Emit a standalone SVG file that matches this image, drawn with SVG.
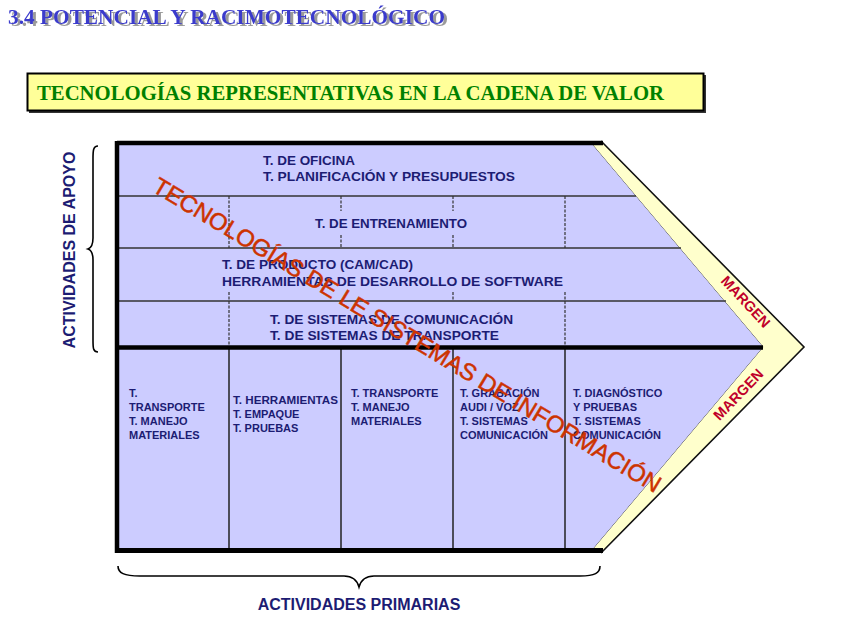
<svg xmlns="http://www.w3.org/2000/svg" width="848" height="636" viewBox="0 0 848 636">
<defs>
<filter id="sh" x="-5%" y="-30%" width="115%" height="170%">
<feOffset in="SourceAlpha" dx="3" dy="2" result="o"/>
<feFlood flood-color="#9a9a9a"/>
<feComposite in2="o" operator="in" result="s"/>
<feMerge><feMergeNode in="s"/><feMergeNode in="SourceGraphic"/></feMerge>
</filter>
</defs>
<style>
.t{font-family:"Liberation Sans",Arial,sans-serif;font-weight:bold;fill:#1c1c73}
.s{font-size:13px}
.p{font-size:11px}
.thin{stroke:#333;stroke-width:1.3;fill:none}
.dash{stroke:#333;stroke-width:1.2;stroke-dasharray:3,1.5;fill:none}
.col{stroke:#222;stroke-width:1.5;fill:none}
.thick{stroke:#000;stroke-width:4.5;fill:none}
.brace{stroke:#000;stroke-width:1.6;fill:none}
.mg{font-family:"Liberation Sans",Arial,sans-serif;font-weight:bold;font-size:14.5px;fill:#c0002a}
</style>
<rect width="848" height="636" fill="#fff"/>
<g id="title">
<text x="8" y="24" font-family="Liberation Serif,'Times New Roman',serif" font-weight="bold" font-size="22" fill="#3b3bcc" textLength="437" lengthAdjust="spacingAndGlyphs" filter="url(#sh)">3.4 POTENCIAL Y RACIMOTECNOLÓGICO</text>
</g>
<g id="subtitle">
<rect x="29" y="75" width="677" height="38" fill="#333"/>
<rect x="27.5" y="73.5" width="676" height="37" fill="#ffff99" stroke="#000" stroke-width="2"/>
<text x="37" y="100" font-family="Liberation Serif,'Times New Roman',serif" font-weight="bold" font-size="21" fill="#008000" textLength="627" lengthAdjust="spacingAndGlyphs">TECNOLOGÍAS REPRESENTATIVAS EN LA CADENA DE VALOR</text>
</g>
<g id="margin-band">
<polygon points="591,143 603,143 804,347 603,551 591,551 763,347" fill="#ffffcc" stroke="none"/>
<polyline points="601,141 804,347 601,553" fill="none" stroke="#111" stroke-width="1.6"/>
<polyline points="591,143 763,347 591,551" fill="none" stroke="#444" stroke-width="1"/>
</g>
<g id="chain-body">
<polygon points="117,143 591,143 763,347 591,551 117,551" fill="#ccccff"/>
</g>
<g id="grid">
<line class="thin" x1="117" y1="196" x2="636" y2="196"/>
<line class="thin" x1="117" y1="248" x2="681" y2="248"/>
<line class="thin" x1="117" y1="301" x2="726" y2="301"/>
<line class="dash" x1="229" y1="196" x2="229" y2="248"/>
<line class="dash" x1="341" y1="196" x2="341" y2="211"/>
<line class="dash" x1="341" y1="235" x2="341" y2="248"/>
<line class="dash" x1="453" y1="196" x2="453" y2="211"/>
<line class="dash" x1="453" y1="235" x2="453" y2="248"/>
<line class="dash" x1="565" y1="196" x2="565" y2="248"/>
<line class="dash" x1="229" y1="292" x2="229" y2="347"/>
<line class="dash" x1="453" y1="292" x2="453" y2="301"/>
<line class="dash" x1="565" y1="292" x2="565" y2="347"/>
<line class="col" x1="229" y1="347" x2="229" y2="550"/>
<line class="col" x1="341" y1="347" x2="341" y2="550"/>
<line class="col" x1="453" y1="347" x2="453" y2="550"/>
<line class="col" x1="565" y1="347" x2="565" y2="550"/>
<line class="thick" x1="117" y1="347.5" x2="763" y2="347.5"/>
<line class="thick" x1="117" y1="143" x2="603" y2="143"/>
<line class="thick" x1="117" y1="141" x2="117" y2="553"/>
<line stroke="#000" stroke-width="5" x1="115" y1="550.5" x2="603" y2="550.5"/>
</g>
<g id="support-1">
<text class="t s" x="263" y="165" textLength="92" lengthAdjust="spacingAndGlyphs">T. DE OFICINA</text>
<text class="t s" x="263" y="181" textLength="252" lengthAdjust="spacingAndGlyphs">T. PLANIFICACIÓN Y PRESUPUESTOS</text>
</g>
<g id="support-2">
<text class="t s" x="315" y="228" textLength="152" lengthAdjust="spacingAndGlyphs">T. DE ENTRENAMIENTO</text>
</g>
<g id="support-3">
<text class="t s" x="222" y="269" textLength="191" lengthAdjust="spacingAndGlyphs">T. DE PRODUCTO (CAM/CAD)</text>
<text class="t s" x="222" y="286" textLength="341" lengthAdjust="spacingAndGlyphs">HERRAMIENTAS DE DESARROLLO DE SOFTWARE</text>
</g>
<g id="support-4">
<text class="t s" x="270" y="324" textLength="243" lengthAdjust="spacingAndGlyphs">T. DE SISTEMAS DE COMUNICACIÓN</text>
<text class="t s" x="270" y="340" textLength="229" lengthAdjust="spacingAndGlyphs">T. DE SISTEMAS DE TRANSPORTE</text>
</g>
<g id="primary-1">
<text class="t p" x="129" y="397">T.</text>
<text class="t p" x="129" y="411">TRANSPORTE</text>
<text class="t p" x="129" y="425">T. MANEJO</text>
<text class="t p" x="129" y="439">MATERIALES</text>
</g>
<g id="primary-2">
<text class="t p" x="233" y="404" textLength="105" lengthAdjust="spacingAndGlyphs">T. HERRAMIENTAS</text>
<text class="t p" x="233" y="418">T. EMPAQUE</text>
<text class="t p" x="233" y="432">T. PRUEBAS</text>
</g>
<g id="primary-3">
<text class="t p" x="351" y="397">T. TRANSPORTE</text>
<text class="t p" x="351" y="411">T. MANEJO</text>
<text class="t p" x="351" y="425">MATERIALES</text>
</g>
<g id="primary-4">
<text class="t p" x="460" y="397">T. GRABACIÓN</text>
<text class="t p" x="460" y="411">AUDI / VOZ</text>
<text class="t p" x="460" y="425">T. SISTEMAS</text>
<text class="t p" x="460" y="439">COMUNICACIÓN</text>
</g>
<g id="primary-5">
<text class="t p" x="573" y="397">T. DIAGNÓSTICO</text>
<text class="t p" x="573" y="411">Y PRUEBAS</text>
<text class="t p" x="573" y="425">T. SISTEMAS</text>
<text class="t p" x="573" y="439">COMUNICACIÓN</text>
</g>
<g id="margin-labels">
<text class="mg" text-anchor="middle" transform="translate(742,305) rotate(47)">MARGEN</text>
<text class="mg" text-anchor="middle" transform="translate(742,398) rotate(-46)">MARGEN</text>
</g>
<g id="diagonal">
<text transform="translate(403,342) rotate(31)" text-anchor="middle" font-family="Liberation Sans,Arial,sans-serif" font-size="23.5" fill="#cc3300" stroke="#cc3300" stroke-width="0.5" textLength="588" lengthAdjust="spacingAndGlyphs">TECNOLOGÍAS DE LE SISTEMAS DE INFORMACIÓN</text>
</g>
<g id="connectors">
<path class="brace" d="M98,146 C93,146 93,151 93,159 L93,238 C93,245 91,248 88,249 C91,250 93,253 93,260 L93,340 C93,348 93,352 98,352"/>
<path class="brace" d="M118,566 C118,573 124,576 140,576 L344,576 C353,576 357,580 359,587 C361,580 365,576 374,576 L580,576 C595,576 600,573 600,566"/>
</g>
<g id="axis-labels">
<text class="t" x="75" y="250" font-size="16" text-anchor="middle" transform="rotate(-90 75 250)">ACTIVIDADES DE APOYO</text>
<text class="t" x="359" y="610" font-size="16" text-anchor="middle">ACTIVIDADES PRIMARIAS</text>
</g>
</svg>
